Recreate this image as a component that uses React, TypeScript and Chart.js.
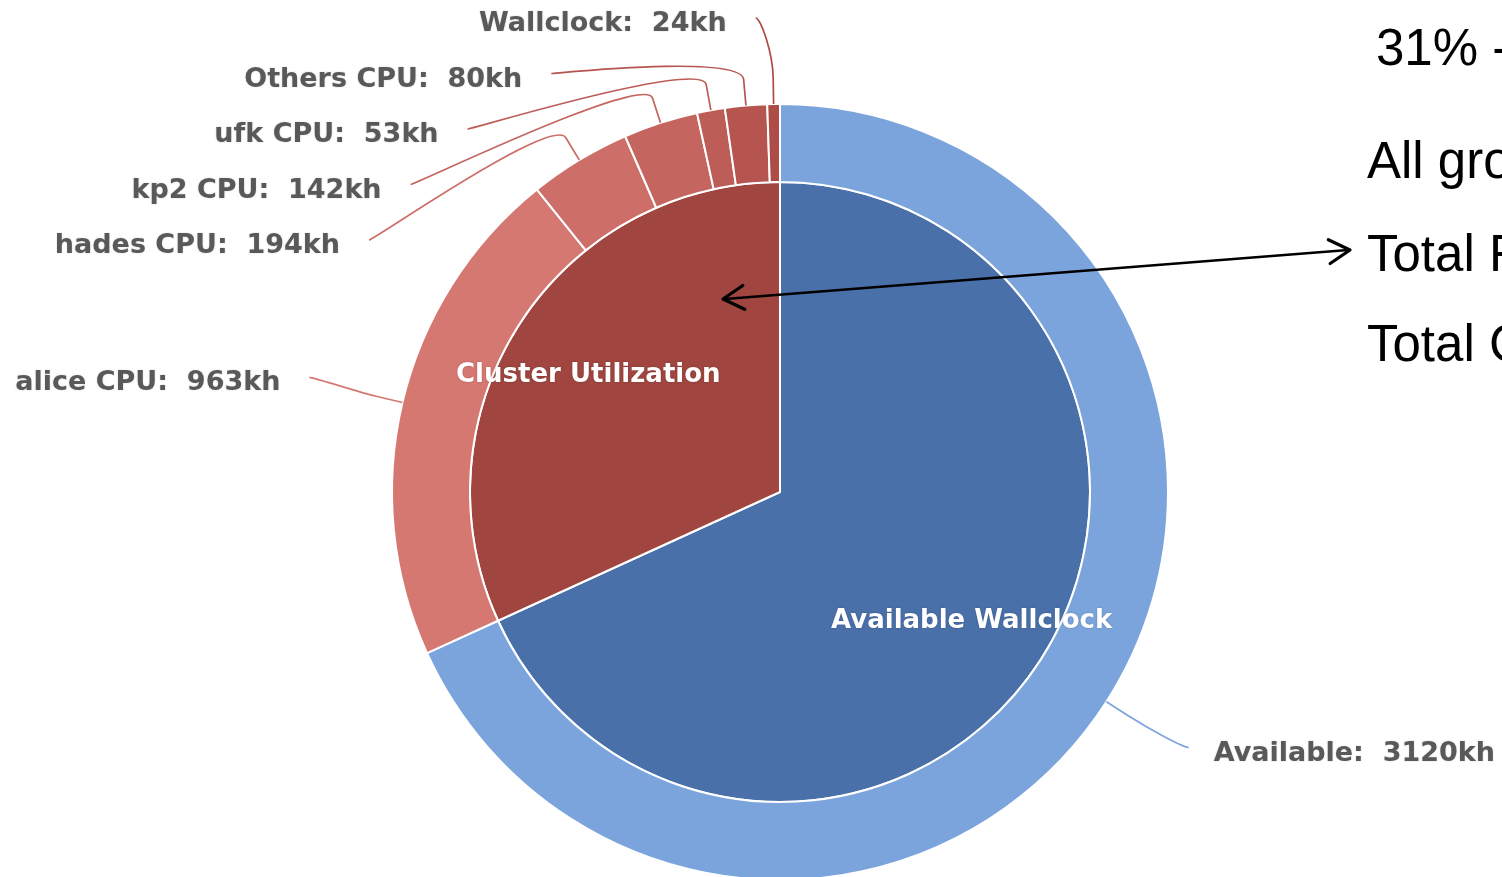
import React, { useEffect, useRef } from "react";
import { Chart, registerables } from "chart.js";

Chart.register(...registerables);

// ---- data ----
const outerLabels = ["Available", "alice CPU", "hades CPU", "kp2 CPU", "ufk CPU", "Others CPU", "Wallclock"];
const outerValues = [3120, 963, 194, 142, 53, 80, 24];
const outerColors = ["#7ca4dc", "#d67872", "#cd6e68", "#c5655f", "#bd5d58", "#b65550", "#ae4c47"];
const innerLabels = ["Available Wallclock", "Cluster Utilization"];
const innerValues = [3120, 1456];
const innerColors = ["#4a70a9", "#a0453f"];
const sideTexts = ["31% -", "All gro", "Total F", "Total C"];
const unit = "kh";

const OUTER_FONT = "bold 27px 'DejaVu Sans', sans-serif";
const INNER_FONT = "bold 26px 'DejaVu Sans', sans-serif";

const labelPlugin = {
  id: "pieLabels",
  afterDatasetsDraw(chart: any) {
    const ctx: CanvasRenderingContext2D = chart.ctx;
    const meta0 = chart.getDatasetMeta(0);
    const items = meta0.data.map((arc: any, i: number) => {
      const p = arc.getProps(["x", "y", "startAngle", "endAngle", "outerRadius"], true);
      const mid = (p.startAngle + p.endAngle) / 2;
      const cos = Math.cos(mid);
      const sin = Math.sin(mid);
      const R = p.outerRadius;
      return {
        i, cx: p.x, cy: p.y, R, cos, sin, left: cos < 0,
        naturalY: p.y + (R + 92) * sin - 4, y: 0,
      };
    });
    [true, false].forEach((side) => {
      const list = items.filter((it: any) => it.left === side).sort((a: any, b: any) => a.naturalY - b.naturalY);
      let prev = -Infinity;
      list.forEach((it: any) => {
        const top = it.cy - it.R - 86;
        const y = Math.max(it.naturalY, top, prev + 55.5);
        it.y = y;
        prev = y;
      });
    });

    ctx.save();
    items.forEach((it: any) => {
      const rx = it.R + 97;
      const ry = it.R + 86.6;
      const k = Math.max(-1, Math.min(1, (it.y - it.cy) / ry));
      const dx = rx * Math.sqrt(1 - k * k);
      const x = it.left ? it.cx - dx : it.cx + dx;
      const y = it.y;
      const E = { x: it.cx + it.R * it.cos, y: it.cy + it.R * it.sin };
      const B = { x: it.cx + (it.R + 26) * it.cos, y: it.cy + (it.R + 26) * it.sin };
      ctx.beginPath();
      ctx.moveTo(x, y);
      ctx.bezierCurveTo(x + (it.left ? 5 : -5), y, 2 * B.x - E.x, 2 * B.y - E.y, B.x, B.y);
      ctx.lineTo(E.x, E.y);
      ctx.strokeStyle = outerColors[it.i];
      ctx.lineWidth = 1.7;
      ctx.stroke();

      ctx.font = OUTER_FONT;
      ctx.fillStyle = "#595959";
      ctx.textBaseline = "middle";
      ctx.textAlign = it.left ? "right" : "left";
      ctx.shadowColor = "rgba(0,0,0,0.18)";
      ctx.shadowBlur = 2;
      ctx.fillText(`${outerLabels[it.i]}:  ${outerValues[it.i]}${unit}`, it.left ? x - 29 : x + 25, y + 6);
      ctx.shadowBlur = 0;
      ctx.shadowColor = "transparent";
    });

    // inner labels
    const meta1 = chart.getDatasetMeta(1);
    meta1.data.forEach((arc: any, i: number) => {
      const p = arc.getProps(["x", "y", "startAngle", "endAngle", "outerRadius"], true);
      const mid = (p.startAngle + p.endAngle) / 2;
      const r = p.outerRadius * 0.735;
      ctx.font = INNER_FONT;
      ctx.fillStyle = "#ffffff";
      ctx.textAlign = "center";
      ctx.textBaseline = "middle";
      ctx.shadowColor = "rgba(0,0,0,0.25)";
      ctx.shadowBlur = 2;
      ctx.fillText(innerLabels[i], p.x + r * Math.cos(mid), p.y + r * Math.sin(mid) + 6);
      ctx.shadowBlur = 0;
      ctx.shadowColor = "transparent";
    });

    // side annotation text
    ctx.font = "51px 'Liberation Sans', Arial, sans-serif";
    ctx.fillStyle = "#000000";
    ctx.textAlign = "left";
    ctx.textBaseline = "alphabetic";
    const tx = [1376, 1367, 1367, 1367];
    const ty = [65, 178, 271, 361];
    sideTexts.forEach((t, i) => ctx.fillText(t, tx[i], ty[i]));

    // double-headed arrow
    const a = { x: 1350, y: 250 };
    const b = { x: 723, y: 299 };
    ctx.strokeStyle = "#000000";
    ctx.lineCap = "round";
    ctx.lineJoin = "round";
    ctx.lineWidth = 2.6;
    ctx.beginPath();
    ctx.moveTo(a.x - 2, a.y);
    ctx.lineTo(b.x + 2, b.y);
    ctx.stroke();
    const ang = Math.atan2(b.y - a.y, b.x - a.x);
    const head = (tip: { x: number; y: number }, dir: number) => {
      const len = 24;
      const spread = 0.52;
      ctx.lineWidth = 3.2;
      ctx.beginPath();
      ctx.moveTo(tip.x - len * Math.cos(dir - spread), tip.y - len * Math.sin(dir - spread));
      ctx.lineTo(tip.x, tip.y);
      ctx.lineTo(tip.x - len * Math.cos(dir + spread), tip.y - len * Math.sin(dir + spread));
      ctx.stroke();
    };
    head(b, ang);
    head(a, ang + Math.PI);
    ctx.restore();
  },
};

export default function App() {
  const ref = useRef<HTMLCanvasElement>(null);
  useEffect(() => {
    const chart = new Chart(ref.current as HTMLCanvasElement, {
      type: "doughnut",
      data: {
        labels: outerLabels,
        datasets: [
          { data: outerValues, backgroundColor: outerColors, borderColor: "#ffffff", borderWidth: 2, weight: 78 } as any,
          { data: innerValues, backgroundColor: innerColors, borderColor: "#ffffff", borderWidth: 2, weight: 310 } as any,
        ],
      },
      options: {
        responsive: false,
        animation: false,
        cutout: 0,
        layout: { padding: { left: 391, top: 103, right: 333, bottom: 19 } },
        plugins: { legend: { display: false }, tooltip: { enabled: false } },
      } as any,
      plugins: [labelPlugin],
    });
    return () => chart.destroy();
  }, []);
  return (
    <div style={{ position: "fixed", left: 0, top: 0, width: 1502, height: 900, background: "#ffffff" }}>
      <canvas ref={ref} width={1502} height={900} style={{ display: "block" }} />
    </div>
  );
}
